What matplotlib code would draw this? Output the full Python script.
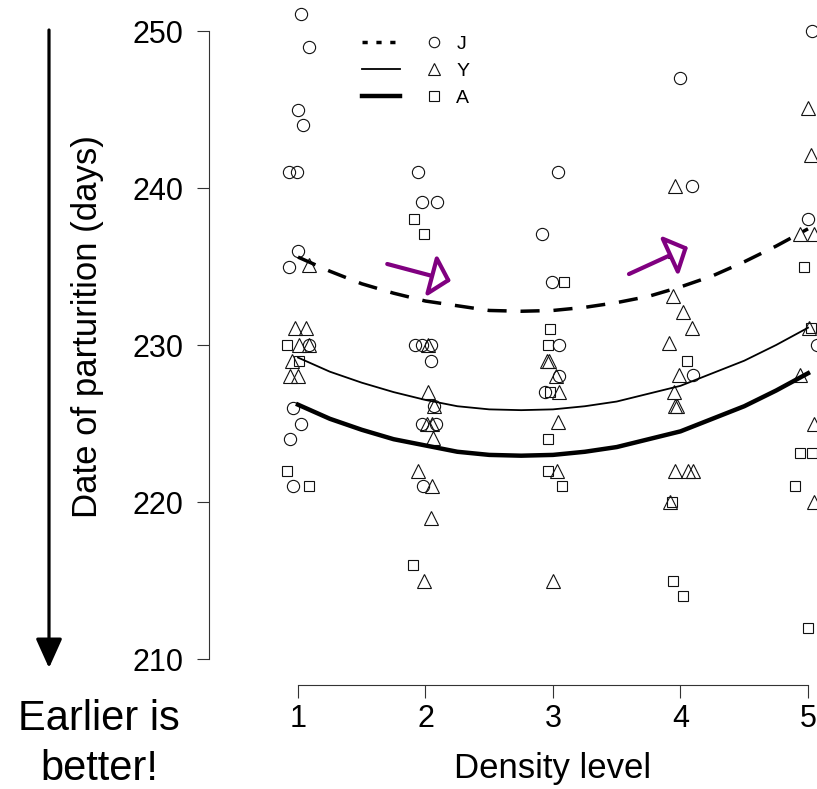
import numpy as np
import matplotlib
matplotlib.use("Agg")
import matplotlib.pyplot as plt
from matplotlib.lines import Line2D
from matplotlib.patches import FancyArrowPatch
from matplotlib.legend_handler import HandlerTuple

plt.rcParams['font.family'] = ['Liberation Sans', 'DejaVu Sans']

# raw points (x = density level incl. jitter, y = day)
j_x = [1.02, 1.09, 1.00, 1.04, 0.93, 0.99, 1.00, 0.93, 1.09, 0.96, 1.02, 0.94, 0.96,
       1.94, 1.97, 2.09, 1.92, 1.97, 2.04, 2.04, 2.07, 1.97, 2.08, 1.98,
       3.04, 2.91, 2.99, 3.05, 3.05, 2.94,
       4.00, 4.09, 4.10,
       5.03, 5.00, 5.07]
j_y = [251.1, 249.0, 245.0, 244.0, 241.0, 241.0, 236.0, 235.0, 230.0, 226.0, 225.0, 224.0, 221.0,
       241.0, 239.1, 239.1, 230.0, 230.0, 230.0, 229.0, 226.1, 225.0, 225.0, 221.0,
       241.0, 237.1, 234.0, 230.0, 228.0, 227.0,
       247.0, 240.1, 228.1,
       250.0, 238.0, 230.0]

y_x = [1.09, 0.98, 1.06, 1.01, 1.09, 0.95, 0.94, 1.00,
       2.02, 2.02, 2.07, 2.01, 2.05, 2.06, 1.94, 2.05, 2.04, 1.99,
       2.95, 2.97, 3.02, 3.05, 3.04, 3.03, 3.00,
       3.96, 3.96, 3.94, 4.02, 4.09, 3.91, 3.99, 3.95, 3.96, 3.97, 3.96, 4.06, 4.10, 3.92,
       5.00, 5.02, 4.94, 5.05, 5.01, 4.94, 5.05, 5.05]
y_y = [235.1, 231.1, 231.1, 230.0, 230.0, 229.0, 228.0, 228.0,
       230.0, 227.0, 226.1, 225.0, 225.0, 224.1, 222.0, 221.0, 219.0, 215.0,
       229.0, 229.0, 228.0, 227.0, 225.1, 222.0, 215.0,
       240.1, 236.0, 233.1, 232.1, 231.1, 230.1, 228.1, 227.0, 226.1, 226.1, 222.0, 222.0, 222.0, 220.0,
       245.1, 242.1, 237.1, 237.1, 231.1, 228.1, 225.0, 220.0]

a_x = [0.91, 1.01, 0.91, 1.09,
       1.91, 1.99, 1.90,
       3.09, 2.98, 2.96, 2.98, 2.96, 2.96, 3.07,
       4.05, 3.93, 3.94, 4.02,
       4.97, 5.02, 4.94, 5.03, 4.90, 5.00]
a_y = [230.0, 229.0, 222.0, 221.0,
       238.0, 237.1, 216.0,
       234.0, 231.0, 230.0, 227.0, 224.0, 222.0, 221.0,
       229.0, 220.0, 215.0, 214.0,
       235.0, 231.1, 223.1, 223.1, 221.0, 212.0]

# fitted curves, read at quarter steps
curve_x = [1, 1.25, 1.5, 1.75, 2, 2.25, 2.5, 2.75, 3, 3.25, 3.5, 3.75, 4, 4.25, 4.5, 4.75, 5]
fit_j = [235.6, 234.7, 233.9, 233.3, 232.8, 232.5, 232.2, 232.15, 232.2, 232.4, 232.7,
         233.1, 233.7, 234.4, 235.3, 236.3, 237.4]
fit_y = [229.2, 228.3, 227.6, 227.0, 226.5, 226.1, 225.9, 225.85, 225.9, 226.1, 226.4,
         226.9, 227.4, 228.2, 229.0, 230.0, 231.1]
fit_a = [226.2, 225.3, 224.6, 224.0, 223.6, 223.2, 223.0, 222.95, 223.0, 223.2, 223.5,
         224.0, 224.5, 225.3, 226.1, 227.1, 228.2]

x_ticks = [1, 2, 3, 4, 5]
y_ticks = [210, 220, 230, 240, 250]

fig = plt.figure(figsize=(8.17, 7.89), dpi=100)
ax = fig.add_axes([209 / 817, 1 - 685 / 789, 1 - 209 / 817, 685 / 789])
ax.set_xlim(0.302, 5.0706)
ax.set_ylim(208.344, 251.975)

pt = dict(ls='none', mfc='none', mec='#111111', mew=0.8)
ax.plot(j_x, j_y, marker='o', ms=8.8, **pt)
ax.plot(y_x, y_y, marker='^', ms=9.5, **pt)
ax.plot(a_x, a_y, marker='s', ms=7.8, **pt)

ax.plot(curve_x, fit_j, color='black', lw=2.5, dashes=(5.5, 4))
ax.plot(curve_x, fit_y, color='black', lw=1.3)
ax.plot(curve_x, fit_a, color='black', lw=3.2)

# purple arrows
for tail, tip in [((1.70, 235.16), (2.20, 234.08)), ((3.596, 234.52), (4.059, 236.24))]:
    ax.add_patch(FancyArrowPatch(tail, tip, arrowstyle='-|>,head_length=0.6,head_width=0.65',
                                 mutation_scale=20, lw=3, edgecolor='#800080',
                                 facecolor='white', shrinkA=0, shrinkB=0, zorder=5))

for s in ['top', 'right']:
    ax.spines[s].set_visible(False)
ax.spines['left'].set_bounds(210, 250)
ax.spines['bottom'].set_bounds(1, 5)
for s in ['left', 'bottom']:
    ax.spines[s].set_color('#333333')
    ax.spines[s].set_linewidth(0.8)
ax.set_xticks(x_ticks)
ax.set_yticks(y_ticks)
ax.tick_params(axis='both', labelsize=22, length=9, width=0.8, color='#333333')
ax.tick_params(axis='x', pad=4.5)
ax.tick_params(axis='y', pad=9.5)

# legend: line + marker + label
lj = (Line2D([], [], color='black', lw=2.5, dashes=(1.5, 2.5)),
      Line2D([], [], ls='none', marker='o', ms=7.5, mfc='none', mec='#111111', mew=0.8))
ly = (Line2D([], [], color='black', lw=1.3),
      Line2D([], [], ls='none', marker='^', ms=9, mfc='none', mec='#111111', mew=0.8))
la = (Line2D([], [], color='black', lw=3.2),
      Line2D([], [], ls='none', marker='s', ms=7.5, mfc='none', mec='#111111', mew=0.8))
ax.legend([lj, ly, la], ['J', 'Y', 'A'], handler_map={tuple: HandlerTuple(ndivide=None, pad=0.77)},
          handlelength=4.7, handletextpad=0.15, frameon=False, fontsize=14,
          loc='upper left', bbox_to_anchor=(362 / 817, 1 - 35 / 789),
          bbox_transform=fig.transFigure, borderpad=0, borderaxespad=0, labelspacing=0.49)

# text and big arrow on the left
fig.text(97 / 817, 1 - 327 / 789, 'Date of parturition (days)', rotation=90,
         rotation_mode='anchor', ha='center', va='baseline', fontsize=25)
fig.text(553 / 817, 1 - 778 / 789, 'Density level', ha='center', va='baseline', fontsize=25)
fig.text(99 / 817, 1 - 730 / 789, 'Earlier is', ha='center', va='baseline', fontsize=30)
fig.text(99 / 817, 1 - 780 / 789, 'better!', ha='center', va='baseline', fontsize=30)
fig.add_artist(FancyArrowPatch((49 / 817, 1 - 30 / 789), (49 / 817, 1 - 668 / 789),
                               transform=fig.transFigure, arrowstyle='-|>,head_length=0.6,head_width=0.27',
                               mutation_scale=30, lw=2.3, color='black', shrinkA=0, shrinkB=0))

fig.savefig('out.png', dpi=100)
